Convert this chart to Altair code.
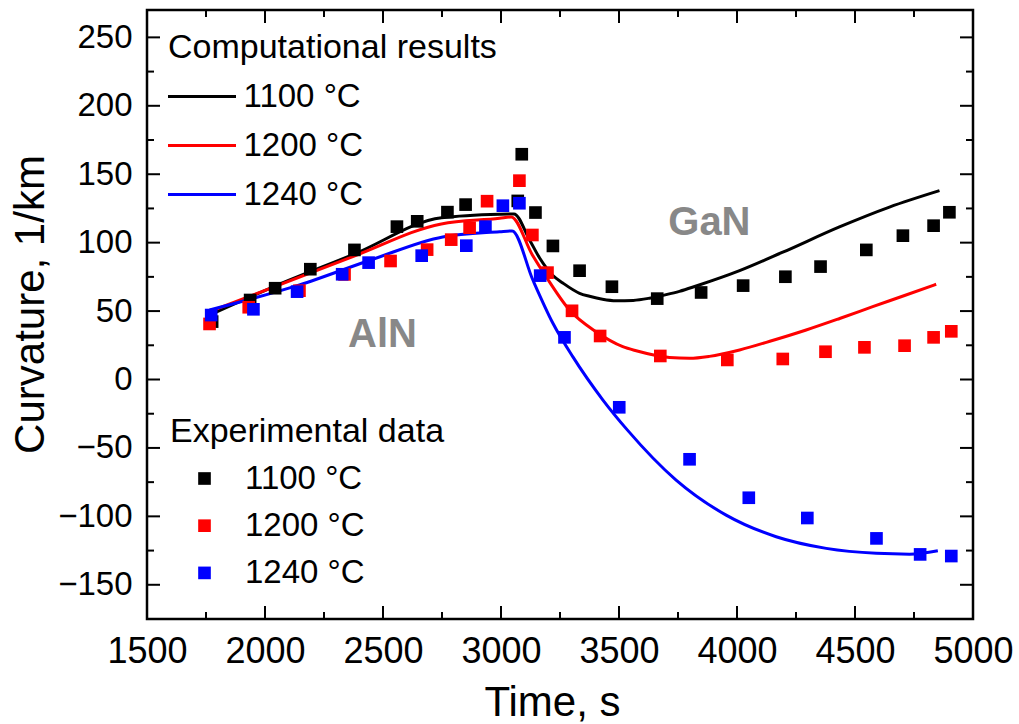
import altair as alt
import pandas as pd

FONT = "Liberation Sans"
series = ["1100 °C", "1200 °C", "1240 °C"]
colors = ["#000000", "#ff0000", "#0000ff"]

# ---- computational results (lines) ----
sim_t_1100 = [1765, 2043, 2379, 2748, 2994, 3055, 3121, 3163, 3220, 3262, 3333, 3375, 3430, 3488,
              3560, 3629, 3700, 3756, 3827, 4011, 4194, 4434, 4646, 4858]
sim_c_1100 = [47.1, 68.3, 91.7, 118.2, 120.8, 121.0, 102.0, 89.0, 76.0, 70.5, 63.0, 60.8, 58.6, 57.5,
              57.8, 59.4, 62.0, 64.4, 68.3, 79.5, 93.0, 111.5, 126.0, 138.0]

sim_t_1200 = [1765, 2372, 2747, 2994, 3043, 3133, 3191, 3290, 3403, 3516, 3573,
              3714, 3799, 3883, 4011, 4150, 4293, 4435, 4575, 4710, 4844]
sim_c_1200 = [49.6, 89.8, 113.7, 117.8, 118.8, 91.0, 75.1, 50.8, 34.9, 24.0, 21.0,
              16.1, 15.5, 16.9, 21.6, 28.5, 36.2, 44.6, 53.2, 61.4, 69.6]

sim_t_1240 = [1765, 2146, 2457, 2753, 2994, 3047, 3135, 3220, 3304, 3432, 3536,
              3742, 3954, 4166, 4378, 4590, 4731, 4851]
sim_c_1240 = [50.8, 69.1, 87.9, 104.2, 108.0, 108.6, 72.7, 41.1, 16.7, -15.0, -37.0,
              -73.5, -99.1, -114.9, -123.4, -127.0, -127.6, -125.1]

# ---- experimental data (squares) ----
exp_t_1100 = [1776, 1937, 2043, 2192, 2379, 2559, 2645, 2773, 2850, 3071, 3088, 3146, 3220, 3333,
              3470, 3662, 3848, 4026, 4205, 4354, 4548, 4703, 4833, 4900]
exp_c_1100 = [42.3, 58.1, 66.7, 80.6, 94.7, 111.7, 115.6, 122.3, 127.8, 130.5, 164.6, 122.0, 97.6, 79.5,
              67.8, 59.1, 63.6, 68.6, 75.1, 82.5, 94.7, 105.1, 112.4, 122.2]

exp_t_1200 = [1765, 1931, 2146, 2337, 2532, 2687, 2789, 2867, 2941, 3078, 3133, 3197, 3301, 3420,
              3675, 3959, 4194, 4375, 4540, 4710, 4833, 4908]
exp_c_1200 = [40.6, 52.8, 64.9, 76.8, 86.6, 94.9, 102.2, 110.9, 130.3, 145.3, 105.6, 78.1, 50.2, 31.8,
              17.2, 14.3, 15.0, 20.3, 23.5, 24.7, 30.8, 35.2]

exp_t_1240 = [1772, 1951, 2136, 2327, 2439, 2664, 2853, 2934, 3008, 3078, 3166, 3269, 3501, 3799,
              4050, 4298, 4591, 4776, 4908]
exp_c_1240 = [47.1, 51.3, 64.2, 76.9, 85.4, 90.5, 97.8, 111.7, 127.0, 128.8, 75.9, 30.8, -20.3, -58.3,
              -86.4, -101.2, -116.1, -127.8, -129.0]

# ---- annotations ----
ann_text = ["AlN", "GaN"]
ann_t = [2498, 3883]
ann_c = [23.5, 105.6]

# ---- axis ticks ----
x_major = [1500, 2000, 2500, 3000, 3500, 4000, 4500, 5000]
x_minor = [1750, 2250, 2750, 3250, 3750, 4250, 4750]
y_major = [-150, -100, -50, 0, 50, 100, 150, 200, 250]
y_minor = [-125, -75, -25, 25, 75, 125, 175, 225]

W, H = 826, 609

sim_rows = []
for name, ts, cs in zip(series, [sim_t_1100, sim_t_1200, sim_t_1240], [sim_c_1100, sim_c_1200, sim_c_1240]):
    for i, (t, c) in enumerate(zip(ts, cs)):
        sim_rows.append({"t": t, "c": c, "model": name, "order": i})
sim_df = pd.DataFrame(sim_rows)

exp_rows = []
for name, ts, cs in zip(series, [exp_t_1100, exp_t_1200, exp_t_1240], [exp_c_1100, exp_c_1200, exp_c_1240]):
    for t, c in zip(ts, cs):
        exp_rows.append({"t": t, "c": c, "measured": name})
exp_df = pd.DataFrame(exp_rows)

ann_df = pd.DataFrame({"t": ann_t, "c": ann_c, "label": ann_text})

xscale = alt.Scale(domain=[1500, 5000], nice=False, zero=False)
yscale = alt.Scale(domain=[-175, 270], nice=False, zero=False)

xaxis = alt.Axis(values=x_major, format="d", labelFont=FONT, labelFontSize=36, labelColor="black",
                 labelPadding=15, ticks=False, tickSize=0, domain=False, grid=False,
                 labelOverlap=False, labelBound=False, labelFlush=False,
                 title="Time, s", titleFont=FONT, titleFontSize=42, titleFontWeight="normal",
                 titleColor="black", titleX=405, titleY=96, titleBaseline="alphabetic", titleAlign="center")
yaxis = alt.Axis(values=y_major, format="d", labelFont=FONT, labelFontSize=33, labelColor="black",
                 labelPadding=15, ticks=False, tickSize=0, domain=False, grid=False,
                 labelOverlap=False, labelBound=False, labelFlush=False,
                 title="Curvature, 1/km", titleFont=FONT, titleFontSize=42, titleFontWeight="normal",
                 titleColor="black", titleAngle=270, titleX=-104, titleY=294,
                 titleBaseline="alphabetic", titleAlign="center")

X = alt.X("t:Q", scale=xscale, axis=xaxis)
Y = alt.Y("c:Q", scale=yscale, axis=yaxis)

lines = alt.Chart(sim_df).mark_line(strokeWidth=3, interpolate="monotone").encode(
    x=X, y=Y,
    stroke=alt.Stroke("model:N", scale=alt.Scale(domain=series, range=colors),
                      legend=alt.Legend(title="Computational results", orient="none",
                                        legendX=21, legendY=21,
                                        symbolType="M-2,0H2", symbolSize=1156, symbolStrokeWidth=3,
                                        symbolOffset=15.5, labelOffset=23,
                                        titleFont=FONT, titleFontSize=34, titleFontWeight="normal",
                                        titleColor="black", titlePadding=13, titleLimit=700,
                                        labelFont=FONT, labelFontSize=33, labelColor="black",
                                        labelLimit=400, rowPadding=13, padding=0)),
    order="order:Q",
)

points = alt.Chart(exp_df).mark_point(shape="square", filled=True, size=160, opacity=1,
                                      strokeWidth=0).encode(
    x=X, y=Y,
    fill=alt.Fill("measured:N", scale=alt.Scale(domain=series, range=colors),
                  legend=alt.Legend(title="Experimental data", orient="none",
                                    legendX=23, legendY=405,
                                    symbolType="square", symbolSize=160, symbolStrokeWidth=0,
                                    symbolOffset=18, labelOffset=24, symbolOpacity=1,
                                    titleFont=FONT, titleFontSize=34, titleFontWeight="normal",
                                    titleColor="black", titlePadding=13, titleLimit=700,
                                    labelFont=FONT, labelFontSize=33, labelColor="black",
                                    labelLimit=400, rowPadding=13.2, padding=0)),
)

ann = alt.Chart(ann_df).mark_text(font=FONT, fontSize=40, fontWeight="bold", color="#888888",
                                  align="center", baseline="alphabetic").encode(
    x=X, y=Y, text="label:N")

tick_w = 2
bx_major = alt.Chart(pd.DataFrame({"t": x_major})).mark_rule(color="black", strokeWidth=tick_w).encode(
    x=X, y=alt.value(H), y2=alt.value(H - 13))
bx_minor = alt.Chart(pd.DataFrame({"t": x_minor})).mark_rule(color="black", strokeWidth=tick_w).encode(
    x=X, y=alt.value(H), y2=alt.value(H - 7))
tx_major = alt.Chart(pd.DataFrame({"t": x_major})).mark_rule(color="black", strokeWidth=tick_w).encode(
    x=X, y=alt.value(0), y2=alt.value(13))
tx_minor = alt.Chart(pd.DataFrame({"t": x_minor})).mark_rule(color="black", strokeWidth=tick_w).encode(
    x=X, y=alt.value(0), y2=alt.value(7))
ly_major = alt.Chart(pd.DataFrame({"c": y_major})).mark_rule(color="black", strokeWidth=tick_w).encode(
    y=Y, x=alt.value(0), x2=alt.value(13))
ly_minor = alt.Chart(pd.DataFrame({"c": y_minor})).mark_rule(color="black", strokeWidth=tick_w).encode(
    y=Y, x=alt.value(0), x2=alt.value(7))
ry_major = alt.Chart(pd.DataFrame({"c": y_major})).mark_rule(color="black", strokeWidth=tick_w).encode(
    y=Y, x=alt.value(W), x2=alt.value(W - 13))
ry_minor = alt.Chart(pd.DataFrame({"c": y_minor})).mark_rule(color="black", strokeWidth=tick_w).encode(
    y=Y, x=alt.value(W), x2=alt.value(W - 7))

chart = alt.layer(
    bx_major, bx_minor, tx_major, tx_minor, ly_major, ly_minor, ry_major, ry_minor,
    lines, points, ann,
).resolve_scale(stroke="independent", fill="independent").properties(
    width=W, height=H,
    padding={"left": 147, "top": 10, "right": 1019 - 147 - W, "bottom": 724 - 10 - H},
    autosize=alt.AutoSizeParams(type="none"),
    background="white",
).configure_view(
    stroke="black", strokeWidth=2.5
)

chart.save("out.html", embed_options={"renderer": "svg", "actions": False})
